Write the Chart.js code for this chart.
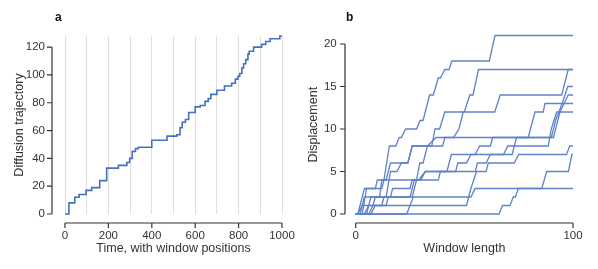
<!DOCTYPE html>
<html lang="en">
<head>
    <meta charset="UTF-8">
    <title>Diffusion trajectory and window displacement</title>
    <script src="https://cdn.jsdelivr.net/npm/chart.js"></script>
    <style>
        body {
            margin: 0;
            padding: 0;
            background: #ffffff;
            width: 598px;
            height: 269px;
            overflow: hidden;
            position: relative;
        }
        .panel {
            position: absolute;
            top: 0;
        }
        #panelA { left: 0; }
        #panelB { left: 300px; }
    </style>
</head>
<body>
    <div class="panel" id="panelA"><canvas id="chartA" width="300" height="269"></canvas></div>
    <div class="panel" id="panelB"><canvas id="chartB" width="298" height="269"></canvas></div>
    <script>
        // Panel a: diffusion trajectory (value holds from each time onward)
        const trajTime  = [0, 18, 45, 65, 97, 123, 160, 192, 246, 285, 298, 310, 325, 338, 400, 470, 515, 530, 540, 555, 570, 600, 623, 645, 660, 672, 700, 735, 768, 785, 797, 805, 815, 823, 833, 843, 849, 869, 906, 925, 945, 990, 1000];
        const trajValue = [0, 8, 12, 14, 17, 19, 24, 33, 35, 37, 40, 45, 47, 48, 53, 56, 57, 62, 66, 68, 73, 77, 78, 81, 83, 86, 89, 92, 94, 97, 99, 101, 105, 108, 111, 115, 117, 120, 122, 124, 126, 128, 128];
        const trajGrid = [0, 100, 200, 300, 400, 500, 600, 700, 800, 900, 1000];
        const trajXTicks = [0, 200, 400, 600, 800, 1000];
        const trajYTicks = [0, 20, 40, 60, 80, 100, 120];

        // Panel b: displacement against window length, one list of [length, displacement] per window
        const winA = [[0,0],[1,0],[4,3],[9,3],[10,4],[13,4],[15.5,8],[18.5,8],[20,9],[21,9],[23,10],[28,10],[29.6,11],[31,11],[34,14],[35.7,14],[38,16],[39,16],[41,17],[43,17],[44.2,18],[61.5,18],[64.1,21],[100,21]];
        const winB = [[0,0],[2,0],[4,2],[11,2],[12,4],[28,4],[29.5,6],[31,6],[33,8],[35,8],[36.5,10],[38.6,10],[41,12],[50,12],[52.5,14],[54,14],[56.5,17],[100,17]];
        const winC = [[0,0],[1,0],[3,1],[8,1],[9,2],[14,2],[16,5],[19,5],[21,6],[24,6],[26,8],[40,8],[41,9],[45,9],[47.5,10],[49.5,12],[64,12],[66.5,14],[94.8,14],[97.8,17],[100,17]];
        const winD = [[0,0],[7,0],[9,1],[12,1],[13,2],[26,2],[28,4],[29,4],[32,5],[46,5],[47,6],[51,6],[53,7],[68,7],[70,8],[88.6,8],[90,10],[92.5,12],[100,12]];
        const winE = [[0,0],[3,0],[5,3],[12,3],[13,4],[14,4],[16,6],[24,6],[26,8],[33,8],[37,9],[79.4,9],[82.5,12],[86.3,12],[87.1,13],[100,13]];
        const winF = [[0,0],[4,0],[6,1],[14,1],[15,2],[25,2],[27,4],[30,4],[32,5],[42,5],[44,7],[55,7],[57,8],[62,8],[63,9],[90,9],[92,11],[95,13],[97.6,15],[100,15]];
        const winG = [[0,0],[5,0],[7,2],[16,2],[17,3],[25,3],[26,4],[38,4],[39,5],[55,5],[56,6],[60,6],[62,7],[72,7],[74,9],[91,9],[94,12],[97.8,14],[100,14]];
        const winH = [[0,0],[6,0],[8,1],[51,1],[53,3],[55.6,5],[60,5],[61,6],[73,6],[75,7],[97,7],[98.5,8],[100,8]];
        const winI = [[0,0],[66,0],[67.5,1],[71,1],[72.5,2],[73.5,2],[74.8,3],[85.6,3],[87.9,5],[97.9,5],[99.5,7],[100,7]];
        const winJ = [[0,0],[23.5,0],[26.5,2],[53,2],[55,3],[100,3]];
        const windowPaths = [winA, winB, winC, winD, winE, winF, winG, winH, winI, winJ];
        const winXTicks = [0, 100];
        const winYTicks = [0, 5, 10, 15, 20];

        const FONT = "'Liberation Sans', Arial, sans-serif";
        const INK = '#333333';

        // detached axis lines with outward tick marks, plus the panel letter
        const spines = {
            id: 'spines',
            afterDraw(chart, args, opts) {
                const ctx = chart.ctx;
                const xs = chart.scales.x, ys = chart.scales.y;
                const area = chart.chartArea;
                const sx = area.left - opts.yGap;
                const sy = area.bottom + opts.xGap;
                ctx.save();
                ctx.strokeStyle = INK;
                ctx.lineWidth = 1.2;
                ctx.beginPath();
                ctx.moveTo(sx, ys.getPixelForValue(opts.yTicks[0]));
                ctx.lineTo(sx, ys.getPixelForValue(opts.yTicks[opts.yTicks.length - 1]));
                opts.yTicks.forEach(v => {
                    const p = ys.getPixelForValue(v);
                    ctx.moveTo(sx, p);
                    ctx.lineTo(sx - 5, p);
                });
                ctx.moveTo(xs.getPixelForValue(opts.xTicks[0]), sy);
                ctx.lineTo(xs.getPixelForValue(opts.xTicks[opts.xTicks.length - 1]), sy);
                opts.xTicks.forEach(v => {
                    const p = xs.getPixelForValue(v);
                    ctx.moveTo(p, sy);
                    ctx.lineTo(p, sy + 5);
                });
                ctx.stroke();
                ctx.fillStyle = '#111';
                ctx.font = 'bold 12px ' + FONT;
                ctx.textBaseline = 'middle';
                ctx.textAlign = 'left';
                ctx.fillText(opts.letter, opts.letterX, 18);
                ctx.restore();
            }
        };

        function baseOptions(cfg) {
            return {
                responsive: false,
                animation: false,
                devicePixelRatio: 1,
                layout: { padding: cfg.padding },
                plugins: {
                    legend: { display: false },
                    tooltip: { enabled: false },
                    spines: cfg.spines
                },
                scales: {
                    x: {
                        type: 'linear',
                        min: cfg.xMin, max: cfg.xMax,
                        afterBuildTicks: s => { s.ticks = cfg.xGrid.map(v => ({ value: v })); },
                        afterFit: s => { s.height = 55; s.paddingLeft = 0; s.paddingRight = 0; },
                        border: { display: false },
                        grid: { display: cfg.showGrid, drawTicks: false, color: '#dedede', lineWidth: 1 },
                        ticks: {
                            padding: 15,
                            color: INK,
                            font: { family: FONT, size: 11.5 },
                            maxRotation: 0,
                            autoSkip: false,
                            callback: v => cfg.xTicks.includes(v) ? String(v) : ''
                        },
                        title: {
                            display: true, text: cfg.xTitle, color: INK,
                            font: { family: FONT, size: 12.5 },
                            padding: { top: 0, bottom: 12.5 }
                        }
                    },
                    y: {
                        type: 'linear',
                        min: 0, max: cfg.yMax,
                        afterBuildTicks: s => { s.ticks = cfg.yTicks.map(v => ({ value: v })); },
                        afterFit: s => { s.width = cfg.yWidth; s.paddingTop = 0; s.paddingBottom = 0; },
                        border: { display: false },
                        grid: { display: false, drawTicks: false },
                        ticks: {
                            padding: cfg.yPad,
                            color: INK,
                            font: { family: FONT, size: 11.5 }
                        },
                        title: {
                            display: true, text: cfg.yTitle, color: INK,
                            font: { family: FONT, size: 12.5 },
                            padding: { top: cfg.yTitlePad, bottom: 0 }
                        }
                    }
                }
            };
        }

        new Chart(document.getElementById('chartA'), {
            type: 'line',
            data: {
                datasets: [{
                    data: trajTime.map((t, i) => ({ x: t, y: trajValue[i] })),
                    stepped: true,
                    borderColor: '#4670bd',
                    borderWidth: 1.6,
                    pointRadius: 0,
                    fill: false,
                    clip: false
                }]
            },
            options: baseOptions({
                padding: { left: 0, right: 18, top: 36, bottom: 0 },
                xMin: 0, xMax: 1000, yMax: 128,
                xGrid: trajGrid, xTicks: trajXTicks, yTicks: trajYTicks,
                showGrid: true,
                yWidth: 65, yPad: 20, yTitlePad: 12,
                xTitle: 'Time, with window positions',
                yTitle: 'Diffusion trajectory',
                spines: { yGap: 13, xGap: 9, xTicks: trajXTicks, yTicks: trajYTicks, letter: 'a', letterX: 55 }
            }),
            plugins: [spines]
        });

        new Chart(document.getElementById('chartB'), {
            type: 'line',
            data: {
                datasets: windowPaths.map(path => ({
                    data: path.map(p => ({ x: p[0], y: p[1] })),
                    borderColor: '#5f83c6',
                    borderWidth: 1.3,
                    pointRadius: 0,
                    tension: 0,
                    fill: false,
                    clip: false
                }))
            },
            options: baseOptions({
                padding: { left: 0, right: 25, top: 35.5, bottom: 0 },
                xMin: 0, xMax: 100, yMax: 21,
                xGrid: winXTicks, xTicks: winXTicks, yTicks: winYTicks,
                showGrid: false,
                yWidth: 55.7, yPad: 19, yTitlePad: 6,
                xTitle: 'Window length',
                yTitle: 'Displacement',
                spines: { yGap: 10.7, xGap: 9, xTicks: winXTicks, yTicks: winYTicks, letter: 'b', letterX: 46 }
            }),
            plugins: [spines]
        });
    </script>
</body>
</html>
